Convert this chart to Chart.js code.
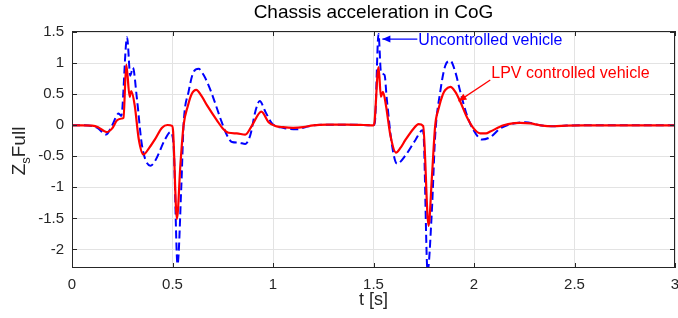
<!DOCTYPE html>
<html>
<head>
<meta charset="utf-8">
<script src="https://cdn.jsdelivr.net/npm/chart.js@4.4.1/dist/chart.umd.min.js"></script>
<style>
  html, body { margin: 0; padding: 0; background: #fff; }
  #wrap { width: 678px; height: 318px; }
</style>
</head>
<body>
<div id="wrap"><canvas id="chart"></canvas></div>
<script>
// ===== Datos =====
const tRed = [0, 0.05, 0.10, 0.13, 0.172, 0.20, 0.224, 0.248, 0.256, 0.270, 0.287, 0.295, 0.312, 0.332, 0.355, 0.385, 0.414, 0.448, 0.475, 0.498, 0.503, 0.522, 0.539, 0.555, 0.577, 0.595, 0.618, 0.645, 0.672, 0.721, 0.750, 0.779, 0.82, 0.862, 0.896, 0.942, 0.978, 1.011, 1.05, 1.10, 1.15, 1.20, 1.27, 1.37, 1.45, 1.50, 1.505, 1.525, 1.537, 1.547, 1.562, 1.584, 1.612, 1.635, 1.658, 1.700, 1.724, 1.747, 1.774, 1.791, 1.807, 1.824, 1.845, 1.857, 1.882, 1.907, 1.932, 1.965, 1.998, 2.031, 2.06, 2.081, 2.147, 2.20, 2.23, 2.28, 2.33, 2.396, 2.46, 2.55, 3.0];
const zRed = [0, 0, -0.005, -0.03, -0.11, -0.05, 0.08, 0.11, 0.12, 0.98, 0.46, 0.55, 0.32, -0.22, -0.47, -0.36, -0.22, -0.04, 0.005, -0.01, -0.1, -1.51, -0.65, 0.0, 0.32, 0.5, 0.57, 0.47, 0.32, 0.08, -0.05, -0.12, -0.13, -0.15, 0.0, 0.22, 0.05, -0.01, -0.03, -0.04, -0.03, 0, 0.01, 0.01, 0.005, 0, 0.05, 0.94, 0.46, 0.54, 0.32, -0.16, -0.44, -0.36, -0.24, -0.05, 0.02, -0.01, -1.62, -0.81, 0.0, 0.27, 0.5, 0.57, 0.62, 0.54, 0.38, 0.13, -0.05, -0.13, -0.13, -0.10, 0.0, 0.035, 0.04, 0.03, 0.0, -0.015, -0.005, 0, 0];

const tBlue = [0, 0.05, 0.10, 0.13, 0.169, 0.20, 0.232, 0.245, 0.274, 0.290, 0.303, 0.323, 0.348, 0.390, 0.414, 0.464, 0.489, 0.505, 0.525, 0.544, 0.555, 0.580, 0.605, 0.630, 0.655, 0.685, 0.713, 0.745, 0.771, 0.796, 0.83, 0.862, 0.887, 0.912, 0.934, 0.962, 0.995, 1.05, 1.119, 1.16, 1.20, 1.27, 1.37, 1.45, 1.50, 1.507, 1.525, 1.537, 1.555, 1.566, 1.592, 1.617, 1.658, 1.708, 1.744, 1.750, 1.769, 1.79, 1.807, 1.832, 1.857, 1.882, 1.907, 1.932, 1.965, 1.998, 2.04, 2.081, 2.131, 2.197, 2.255, 2.33, 2.40, 2.46, 2.55, 3.0];
const zBlue = [0, 0, -0.01, -0.05, -0.15, 0.0, 0.19, 0.15, 1.42, 0.80, 0.93, 0.43, -0.32, -0.65, -0.57, -0.22, -0.11, -0.3, -2.24, -0.97, 0.0, 0.54, 0.86, 0.91, 0.81, 0.6, 0.35, 0.05, -0.16, -0.27, -0.28, -0.30, -0.16, 0.22, 0.39, 0.22, 0.03, -0.04, -0.065, -0.03, 0, 0.01, 0.01, 0.005, 0, 0.05, 1.47, 0.86, 0.81, 0.43, -0.32, -0.62, -0.49, -0.24, -0.08, -0.2, -2.35, -1.40, -0.16, 0.54, 0.96, 1.04, 0.86, 0.54, 0.16, -0.08, -0.23, -0.19, -0.05, 0.03, 0.05, 0.0, -0.015, -0.005, 0, 0];

const xTicks = [0, 0.5, 1, 1.5, 2, 2.5, 3];
const yTicks = [-2, -1.5, -1, -0.5, 0, 0.5, 1, 1.5];

const titleText = 'Chassis acceleration in CoG';
const xLabel = 't [s]';
const labelUncontrolled = 'Uncontrolled vehicle';
const labelLPV = 'LPV controlled vehicle';

// ===== Estilos =====
const FONT = "'Liberation Sans', Arial, Helvetica, sans-serif";
const INK = '#262626';
const RED = '#ff0000', BLUE = '#0000ff';

const pts = (ts, zs) => ts.map((t, i) => ({ x: t, y: zs[i] }));

// bordes, marcas hacia dentro, título, etiqueta Y y flechas
const decor = {
  id: 'decor',
  afterDraw(chart) {
    const { ctx, chartArea: a, scales: { x, y } } = chart;
    ctx.save();
    ctx.strokeStyle = INK; ctx.lineWidth = 1;
    ctx.strokeRect(Math.round(a.left) + 0.5, Math.round(a.top) + 0.5, Math.round(a.right - a.left) - 1, Math.round(a.bottom - a.top) - 1);
    ctx.beginPath();
    xTicks.forEach(v => {
      const px = Math.round(x.getPixelForValue(v)) + 0.5;
      ctx.moveTo(px, a.bottom); ctx.lineTo(px, a.bottom - 5);
      ctx.moveTo(px, a.top); ctx.lineTo(px, a.top + 5);
    });
    yTicks.forEach(v => {
      const py = Math.round(y.getPixelForValue(v)) + 0.5;
      ctx.moveTo(a.left, py); ctx.lineTo(a.left + 5, py);
      ctx.moveTo(a.right, py); ctx.lineTo(a.right - 5, py);
    });
    ctx.stroke();

    // título
    ctx.fillStyle = '#000';
    ctx.font = '19px ' + FONT;
    ctx.textAlign = 'center'; ctx.textBaseline = 'alphabetic';
    ctx.fillText(titleText, (a.left + a.right) / 2, 18);

    // eje x
    ctx.fillStyle = INK;
    ctx.font = '18px ' + FONT;
    ctx.fillText(xLabel, (a.left + a.right) / 2, 305);

    // eje y: Z_s Full
    ctx.save();
    ctx.translate(25, 151);
    ctx.rotate(-Math.PI / 2);
    ctx.textAlign = 'left';
    ctx.font = '19px ' + FONT;
    const wZ = ctx.measureText('Z').width;
    ctx.font = '13px ' + FONT;
    const wS = ctx.measureText('s').width;
    ctx.font = '19px ' + FONT;
    const wF = ctx.measureText('Full').width;
    let sx = -(wZ + wS + wF) / 2;
    ctx.fillText('Z', sx, 0);
    ctx.font = '13px ' + FONT;
    ctx.fillText('s', sx + wZ, 5);
    ctx.font = '19px ' + FONT;
    ctx.fillText('Full', sx + wZ + wS, 0);
    ctx.restore();

    // anotaciones
    const arrow = (x0, y0, x1, y1, col) => {
      ctx.strokeStyle = col; ctx.fillStyle = col; ctx.lineWidth = 1.3;
      ctx.beginPath(); ctx.moveTo(x0, y0); ctx.lineTo(x1, y1); ctx.stroke();
      const ang = Math.atan2(y1 - y0, x1 - x0), L = 8, W = 3.5;
      ctx.beginPath();
      ctx.moveTo(x1, y1);
      ctx.lineTo(x1 - L * Math.cos(ang) + W * Math.sin(ang), y1 - L * Math.sin(ang) - W * Math.cos(ang));
      ctx.lineTo(x1 - L * Math.cos(ang) - W * Math.sin(ang), y1 - L * Math.sin(ang) + W * Math.cos(ang));
      ctx.closePath(); ctx.fill();
    };
    arrow(x.getPixelForValue(1.718), y.getPixelForValue(1.39), x.getPixelForValue(1.544), y.getPixelForValue(1.39), BLUE);
    arrow(x.getPixelForValue(2.081), y.getPixelForValue(0.73), x.getPixelForValue(1.923), y.getPixelForValue(0.39), RED);
    ctx.font = '16px ' + FONT;
    ctx.textAlign = 'left'; ctx.textBaseline = 'middle';
    ctx.fillStyle = BLUE;
    ctx.fillText(labelUncontrolled, x.getPixelForValue(1.723), y.getPixelForValue(1.37));
    ctx.fillStyle = RED;
    ctx.fillText(labelLPV, x.getPixelForValue(2.086), y.getPixelForValue(0.84));
    ctx.restore();
  }
};

Chart.defaults.animation = false;
Chart.defaults.font.family = FONT;

const fmt = v => String(v);

new Chart(document.getElementById('chart'), {
  type: 'line',
  data: {
    datasets: [
      { label: 'LPV controlled vehicle', data: pts(tRed, zRed), borderColor: RED, borderWidth: 2.2, pointRadius: 0, cubicInterpolationMode: 'monotone', order: 0 },
      { label: 'Uncontrolled vehicle', data: pts(tBlue, zBlue), borderColor: BLUE, borderWidth: 2, borderDash: [8, 4], pointRadius: 0, cubicInterpolationMode: 'monotone', order: 1 }
    ]
  },
  options: {
    responsive: true,
    maintainAspectRatio: false,
    layout: { padding: { top: 31, right: 3, left: 0, bottom: 0 } },
    plugins: { legend: { display: false }, title: { display: false }, tooltip: { enabled: false } },
    scales: {
      x: {
        type: 'linear', min: 0, max: 3,
        afterFit: s => { s.height = 50; s.paddingLeft = 0; s.paddingRight = 0; },
        afterBuildTicks: s => { s.ticks = xTicks.map(v => ({ value: v })); },
        grid: { color: '#e3e3e3', drawTicks: false },
        border: { display: false },
        ticks: { color: INK, font: { size: 15 }, padding: 8, maxRotation: 0, callback: fmt }
      },
      y: {
        type: 'linear', min: -2.3, max: 1.52,
        afterFit: s => { s.width = 72; s.paddingTop = 0; s.paddingBottom = 0; },
        afterBuildTicks: s => { s.ticks = yTicks.map(v => ({ value: v })); },
        grid: { color: '#e3e3e3', drawTicks: false },
        border: { display: false },
        ticks: { color: INK, font: { size: 15 }, padding: 8, callback: fmt }
      }
    }
  },
  plugins: [decor]
});
</script>
</body>
</html>
